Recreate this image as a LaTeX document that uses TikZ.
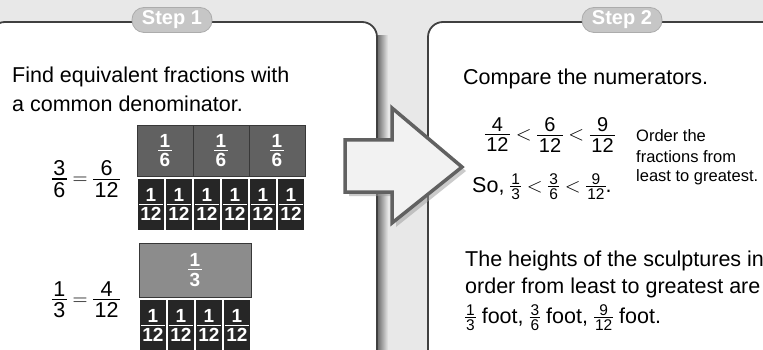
\documentclass[tikz,border=0pt]{standalone}
\usepackage{amsmath}
\usepackage{fontspec}
\setmainfont{Liberation Sans}
\usepackage{tikz}

\newcommand{\dfr}[2]{\vcenter{\offinterlineskip\halign{\hfil\kern1.5pt##\kern1.5pt\hfil\cr#1\cr\noalign{\kern2.5pt\hrule height 1.1pt\kern2.5pt}#2\cr}}}
\newcommand{\sfr}[2]{\vcenter{\offinterlineskip\fontsize{15.5}{15.5}\selectfont\halign{\hfil\kern1pt##\kern1pt\hfil\cr#1\cr\noalign{\kern1.6pt\hrule height 0.9pt\kern1.6pt}#2\cr}}}

\begin{document}
\begin{tikzpicture}[
				x=1pt, y=-1pt,
				panel/.style={draw=black!75, line width=1.8pt, fill=white},
				tab/.style={rounded corners=12pt, fill=gray!45, draw=gray!65, line width=0.8pt, text=white, font=\bfseries\fontsize{20}{20}\selectfont, minimum width=80pt, minimum height=25pt, inner sep=0pt},
				body/.style={font=\fontsize{21.5}{26}\selectfont, anchor=base west, inner sep=0pt},
				note/.style={font=\fontsize{16.5}{20}\selectfont, anchor=base west, inner sep=0pt},
				sixth/.style={fill=black!62, draw=black!78, line width=0.6pt, minimum width=56pt, minimum height=51pt, inner sep=0pt, text=white, font=\bfseries\fontsize{19}{19}\selectfont},
				third/.style={sixth, fill=black!45, minimum width=112pt, minimum height=54pt},
				twelfth/.style={fill=black!85, minimum width=26pt, minimum height=51pt, inner sep=0pt, text=white, font=\bfseries\fontsize{19}{19}\selectfont},
				bigarrow/.style={fill=gray!10, draw=black!62, line width=3.5pt, line join=miter}
				]
				
				\clip (0,0) rectangle (763,350);
				\fill[gray!18] (0,0) rectangle (763,350);
				
				\draw[panel, rounded corners=15pt] (-10,380) -- (-10,22) -- (377,22) -- (377,380) -- cycle;
				\shade[left color=black!55, right color=gray!18] (378,36) rectangle (388,350);
				\draw[panel, rounded corners=15pt] (800,380) -- (800,22) -- (428,22) -- (428,380) -- cycle;
				
				\node[tab] (tab1) at (172,20) {Step 1};
				\node[tab] (tab2) at (622,20) {Step 2};
				
				\fill[black!40, opacity=0.5] (349,144) -- (396,144) -- (396,112) -- (466,171) -- (396,227) -- (396,196) -- (349,196) -- cycle;
				\draw[bigarrow] (345,140) -- (392,140) -- (392,108) -- (462,167) -- (392,223) -- (392,192) -- (345,192) -- cycle;
				
				\node[body] (find1) at (12,83) {Find equivalent fractions with};
				\node[body] (find2) at (12,112) {a common denominator.};
				
				\node[body, anchor=center] (eqa) at (86,179) {$\dfr{3}{6} = \dfr{6}{12}$};
				\node[body, anchor=center] (eqb) at (86,300) {$\dfr{1}{3} = \dfr{4}{12}$};
				
				\foreach \i in {0,1,2}
					\node[sixth] (six\i) at ({165+56*\i},150.5) {$\dfr{1}{6}$};
				\foreach \i in {0,...,5}
					\node[twelfth] (twa\i) at ({151+28*\i},204.5) {$\dfr{1}{12}$};
				
				\node[third] (thr) at (195,270) {$\dfr{1}{3}$};
				\foreach \i in {0,...,3}
					\node[twelfth] (twb\i) at ({153+28*\i},325.5) {$\dfr{1}{12}$};
				
				\node[body] (cmp) at (463,85) {Compare the numerators.};
				\node[body, anchor=center, font=\fontsize{20}{24}\selectfont] (ord) at (550,135) {$\dfr{4}{12} < \dfr{6}{12} < \dfr{9}{12}$};
				\node[body] (so) at (472,192) {So, $\sfr{1}{3} < \sfr{3}{6} < \sfr{9}{12}$.};
				
				\node[note] (note1) at (636,142) {Order the};
				\node[note] (note2) at (636,162) {fractions from};
				\node[note] (note3) at (636,182) {least to greatest.};
				
				\node[body] (hgt1) at (465,266) {The heights of the sculptures in};
				\node[body] (hgt2) at (465,293) {order from least to greatest are};
				\node[body] (hgt3) at (465,323) {$\sfr{1}{3}$ foot, $\sfr{3}{6}$ foot, $\sfr{9}{12}$ foot.};
				
			\end{tikzpicture}
\end{document}
